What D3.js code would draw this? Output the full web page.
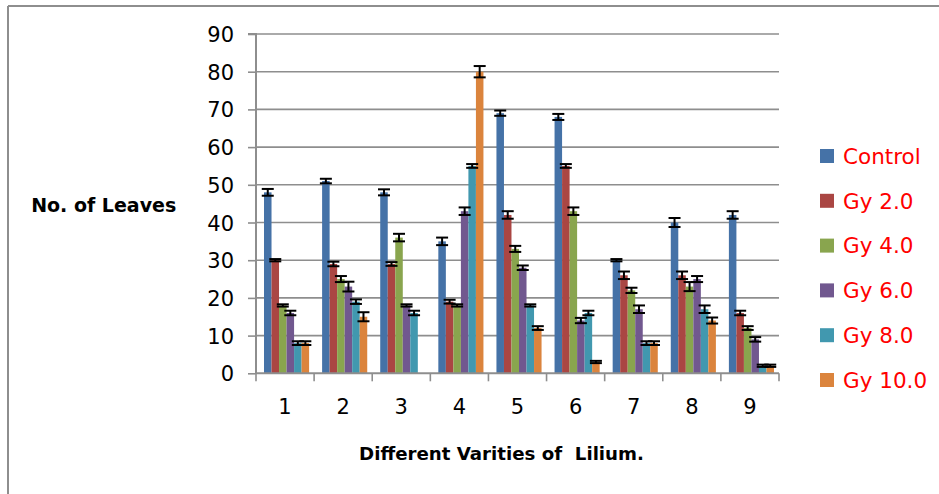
<!DOCTYPE html>
<html><head><meta charset="utf-8">
<script src="https://cdn.jsdelivr.net/npm/d3@7/dist/d3.min.js"></script>
<style>html,body{margin:0;padding:0;background:#fff}svg{display:block}</style>
</head><body><svg id="c" width="939" height="494"></svg>
<script>
const categories = ["1","2","3","4","5","6","7","8","9"];
const seriesNames = ["Control","Gy 2.0","Gy 4.0","Gy 6.0","Gy 8.0","Gy 10.0"];
const colors = ["#4572A7","#AA4643","#89A54E","#71588F","#4198AF","#DB843D"];
const control = [48, 51, 48, 35, 69, 68, 30, 40, 42];
const gy2     = [30, 29, 29, 19, 42, 55, 26, 26, 16];
const gy4     = [18, 25, 36, 18, 33, 43, 22, 23, 12];
const gy6     = [16, 23, 18, 43, 28, 14, 17, 25, 9];
const gy8     = [8, 19, 16, 55, 18, 16, 8, 17, 2];
const gy10    = [8, 15, 0, 80, 12, 3, 8, 14, 2];
const errControl = [0.9, 0.6, 0.8, 1.0, 0.7, 0.8, 0.3, 1.2, 1.0];
const errGy2     = [0.3, 0.6, 0.5, 0.5, 1.0, 0.5, 1.0, 1.0, 0.6];
const errGy4     = [0.3, 0.8, 1.0, 0.3, 0.8, 1.0, 0.7, 1.2, 0.5];
const errGy6     = [0.6, 1.3, 0.3, 1.0, 0.6, 0.7, 1.0, 0.8, 0.6];
const errGy8     = [0.5, 0.6, 0.6, 0.5, 0.3, 0.6, 0.5, 1.0, 0.3];
const errGy10    = [0.5, 1.2, 0,   1.5, 0.5, 0.3, 0.5, 0.8, 0.3];
const yTicks = [0,10,20,30,40,50,60,70,80,90];
const yTitle = "No. of Leaves";
const xTitle = "Different Varities of  Lilium.";

const values = [control, gy2, gy4, gy6, gy8, gy10];
const errs = [errControl, errGy2, errGy4, errGy6, errGy8, errGy10];

const svg = d3.select("#c");
const L = 256, R = 779, T = 34, B = 373.3;
const grid = "#8e8e8e";

// outer border (top and left visible)
svg.append("line").attr("x1",8).attr("x2",939).attr("y1",6).attr("y2",6).attr("stroke",grid).attr("stroke-width",2);
svg.append("line").attr("x1",8).attr("x2",8).attr("y1",6).attr("y2",494).attr("stroke",grid).attr("stroke-width",2);

const x = d3.scaleBand().domain(categories).range([L, R]).paddingInner(0).paddingOuter(0);
const y = d3.scaleLinear().domain([0, 90]).range([B, T]);
const xs = d3.scaleBand().domain(seriesNames).range([8, x.bandwidth() - 5]).padding(0);

// gridlines
svg.append("g").selectAll("line").data(yTicks.filter(d => d > 0)).join("line")
  .attr("x1", L).attr("x2", R).attr("y1", d => y(d)).attr("y2", d => y(d))
  .attr("stroke", grid).attr("stroke-width", 1.6);

// y axis
const yAxis = d3.axisLeft(y).tickValues(yTicks).tickSize(8).tickPadding(14).tickFormat(d3.format("d"));
const gy = svg.append("g").attr("transform", `translate(${L},0)`).call(yAxis);
gy.select(".domain").attr("stroke", grid).attr("stroke-width", 2).attr("d", `M-8,${T}H0V${B}`);
gy.selectAll(".tick line").attr("stroke", grid).attr("stroke-width", 1.6);
gy.selectAll(".tick text").attr("font-family", "DejaVu Sans").attr("font-size", 21).attr("fill", "#000").attr("dy", "0.36em");

// bars
const groups = svg.append("g").selectAll("g").data(categories).join("g")
  .attr("transform", d => `translate(${x(d)},0)`);
groups.each(function(cat, ci) {
  const g = d3.select(this);
  seriesNames.forEach((s, si) => {
    const v = values[si][ci];
    if (v <= 0) return;
    g.append("rect").attr("x", xs(s)).attr("width", xs.bandwidth())
      .attr("y", y(v)).attr("height", y(0) - y(v)).attr("fill", colors[si]);
  });
});
// error bars
groups.each(function(cat, ci) {
  const g = d3.select(this);
  seriesNames.forEach((s, si) => {
    const v = values[si][ci];
    if (v <= 0) return;
    const e = errs[si][ci];
    const cx = xs(s) + xs.bandwidth() / 2;
    const eb = g.append("g").attr("stroke", "#000").attr("stroke-width", 2);
    eb.append("line").attr("x1", cx).attr("x2", cx).attr("y1", y(v + e)).attr("y2", y(v - e));
    eb.append("line").attr("x1", cx - 6).attr("x2", cx + 6).attr("y1", y(v + e)).attr("y2", y(v + e));
    eb.append("line").attr("x1", cx - 6).attr("x2", cx + 6).attr("y1", y(v - e)).attr("y2", y(v - e));
  });
});

// x axis
const xAxis = d3.axisBottom(x).tickSize(0).tickPadding(26);
const gx = svg.append("g").attr("transform", `translate(0,${B})`).call(xAxis);
gx.select(".domain").attr("stroke", grid).attr("stroke-width", 2).attr("d", `M${L},0H${R}`);
gx.selectAll(".tick text").attr("font-family", "DejaVu Sans").attr("font-size", 21).attr("fill", "#000");
svg.append("g").selectAll("line").data(categories.concat(["end"])).join("line")
  .attr("x1", (d, i) => L + i * x.bandwidth()).attr("x2", (d, i) => L + i * x.bandwidth())
  .attr("y1", B).attr("y2", B + 8).attr("stroke", grid).attr("stroke-width", 1.6);

// titles
svg.append("text").attr("x", 103.7).attr("y", 212).attr("text-anchor", "middle")
  .attr("font-family", "DejaVu Sans").attr("font-weight", "bold").attr("font-size", 19).text(yTitle);
svg.append("text").attr("x", 501.5).attr("y", 460).attr("text-anchor", "middle")
  .attr("font-family", "DejaVu Sans").attr("font-weight", "bold").attr("font-size", 18.2)
  .style("white-space", "pre").text(xTitle);

// legend
const lg = svg.append("g").selectAll("g").data(seriesNames).join("g")
  .attr("transform", (d, i) => `translate(820,${156 + i * 44.8})`);
lg.append("rect").attr("x", 0).attr("y", -7).attr("width", 14).attr("height", 14).attr("fill", (d, i) => colors[i]);
lg.append("text").attr("x", 23).attr("y", 0).attr("dy", "0.36em").attr("font-family", "DejaVu Sans")
  .attr("font-size", 21.5).attr("fill", "#ff0000").text(d => d);
</script></body></html>
